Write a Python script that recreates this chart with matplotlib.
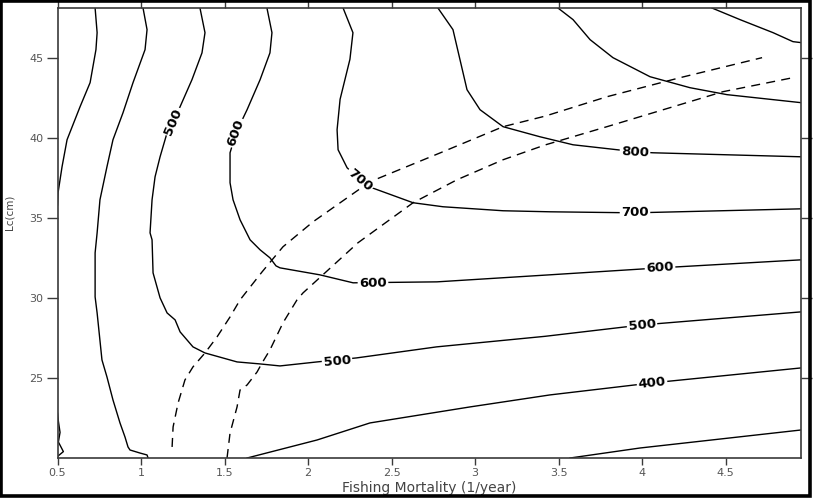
import matplotlib
matplotlib.use('Agg')
import matplotlib.pyplot as plt
from matplotlib.patches import Rectangle

# yield isopleths: F (1/year) and Lc (cm) along each line
f_300a = [0.725, 0.737, 0.73, 0.695, 0.635, 0.557, 0.527, 0.503, 0.5]
lc_300a = [48.1, 46.56, 45.5, 43.44, 41.94, 39.875, 38.19, 36.56, 35.8]
f_300b = [0.5, 0.505, 0.515, 0.505, 0.535, 0.5]
lc_300b = [22.8, 22.3, 21.6, 21.0, 20.4, 20.1]
f_300c = [3.569, 3.988, 4.952]
lc_300c = [20.0, 20.625, 21.75]

f_400a = [1.012, 1.036, 1.024, 0.952, 0.892, 0.832, 0.796, 0.754, 0.737, 0.725, 0.725,
          0.737, 0.766, 0.796, 0.832, 0.874, 0.904, 0.922, 0.934, 0.994, 1.036, 1.042]
lc_400a = [48.1, 46.75, 45.5, 43.44, 41.56, 39.875, 38.19, 36.125, 34.06, 32.81, 30.06,
           29.06, 26.125, 25.06, 23.625, 22.19, 21.31, 20.69, 20.5, 20.31, 20.19, 20.0]
f_400b = [1.635, 2.054, 2.371, 2.97, 3.449, 4.06, 4.952]
lc_400b = [20.0, 21.125, 22.19, 23.19, 23.94, 24.69, 25.625]

f_500 = [1.353, 1.383, 1.365, 1.305, 1.234, 1.192, 1.156, 1.114, 1.084, 1.066, 1.054,
         1.066, 1.072, 1.114, 1.156, 1.204, 1.234, 1.311, 1.383, 1.575, 1.713, 1.832,
         2.054, 2.29, 2.77, 3.42, 4.0, 4.952]
lc_500 = [48.1, 46.56, 45.3, 43.625, 41.94, 41.0, 40.31, 38.81, 37.56, 36.125, 34.06,
          33.625, 31.56, 30.0, 29.06, 28.625, 27.875, 26.94, 26.56, 26.0, 25.875, 25.75,
          26.0, 26.25, 26.94, 27.6, 28.31, 29.125]

f_600 = [1.754, 1.784, 1.772, 1.713, 1.635, 1.569, 1.533, 1.533, 1.551, 1.593, 1.653,
         1.713, 1.772, 1.808, 1.832, 2.07, 2.27, 2.772, 3.449, 4.108, 4.952]
lc_600 = [48.1, 46.56, 45.3, 43.625, 41.75, 40.31, 39.06, 37.19, 36.125, 34.875, 33.625,
          33.0, 32.5, 32.0, 31.875, 31.44, 30.94, 31.0, 31.44, 31.875, 32.375]

f_700 = [2.21, 2.269, 2.251, 2.192, 2.174, 2.18, 2.234, 2.311, 2.383, 2.629, 2.808,
         3.168, 3.449, 3.958, 4.952]
lc_700 = [48.1, 46.56, 44.9, 42.4, 40.5, 39.25, 38.125, 37.375, 36.875, 35.94, 35.69,
          35.44, 35.375, 35.31, 35.56]

f_800 = [2.778, 2.868, 2.91, 2.952, 3.03, 3.168, 3.389, 3.587, 3.958, 4.066, 4.952]
lc_800 = [48.1, 46.75, 44.875, 43.0, 41.75, 40.69, 40.06, 39.56, 39.125, 39.06, 38.81]

f_900 = [3.497, 3.587, 3.689, 3.826, 4.048, 4.287, 4.509, 4.952]
lc_900 = [48.1, 47.375, 46.125, 45.0, 43.81, 43.125, 42.69, 42.19]

f_1000 = [4.419, 4.587, 4.785, 4.904, 4.952]
lc_1000 = [48.1, 47.375, 46.56, 46.0, 45.94]

# the two dashed curves
f_dash1 = [1.186, 1.192, 1.222, 1.263, 1.311, 1.383, 1.455, 1.533, 1.593, 1.725, 1.85,
           2.03, 2.371, 2.808, 3.168, 3.42, 3.79, 4.228, 4.719]
lc_dash1 = [20.69, 21.94, 23.44, 24.875, 25.69, 26.56, 27.56, 28.81, 29.875, 31.625, 33.19,
            34.75, 37.25, 39.125, 40.69, 41.35, 42.56, 43.75, 45.0]
f_dash2 = [1.515, 1.533, 1.575, 1.593, 1.635, 1.695, 1.725, 1.772, 1.85, 1.934, 1.97,
           2.299, 2.629, 2.892, 3.168, 3.42, 3.79, 4.485, 4.904]
lc_dash2 = [20.0, 21.56, 23.19, 24.25, 24.56, 25.375, 25.94, 26.75, 28.44, 29.875, 30.31,
            33.44, 35.94, 37.375, 38.625, 39.55, 40.69, 42.875, 43.75]

# contour labels: text, F, Lc, angle
lab_text = ['500', '600', '700', '500', '600', '600', '500', '400', '700', '800']
lab_f = [1.192, 1.569, 2.311, 2.174, 2.389, 4.108, 4.0, 4.06, 3.958, 3.958]
lab_lc = [41.0, 40.31, 37.375, 26.06, 30.94, 31.875, 28.31, 24.69, 35.31, 39.125]
lab_rot = [67, 70, -40, 5, 1, 3.5, 5.5, 6, 0.5, -3]

xticks = [0.5, 1, 1.5, 2, 2.5, 3, 3.5, 4, 4.5]
xtick_labels = ['0.5', '1', '1.5', '2', '2.5', '3', '3.5', '4', '4.5']
yticks = [25, 30, 35, 40, 45]

fig = plt.figure(figsize=(8.15, 4.98), dpi=100)
ax = fig.add_axes([0.0706, 0.0803, 0.9122, 0.9036])

solid = [(f_300a, lc_300a), (f_300b, lc_300b), (f_300c, lc_300c), (f_400a, lc_400a),
         (f_400b, lc_400b), (f_500, lc_500), (f_600, lc_600), (f_700, lc_700),
         (f_800, lc_800), (f_900, lc_900), (f_1000, lc_1000)]
for fx, ly in solid:
    ax.plot(fx, ly, color='black', lw=1.0, solid_joinstyle='round')

for fx, ly in [(f_dash1, lc_dash1), (f_dash2, lc_dash2)]:
    ax.plot(fx, ly, color='black', lw=1.0, dashes=(6.5, 4.5))

for t, fx, ly, r in zip(lab_text, lab_f, lab_lc, lab_rot):
    ax.text(fx, ly, t, rotation=r, ha='center', va='center', rotation_mode='anchor',
            fontsize=9.5, fontweight='bold', family='DejaVu Sans', color='black',
            bbox=dict(facecolor='white', edgecolor='none', pad=1.0))

ax.set_xlim(0.5, 4.952)
ax.set_ylim(20, 48.1)
ax.set_xticks(xticks)
ax.set_xticklabels(xtick_labels)
ax.set_yticks(yticks)

for s in ax.spines.values():
    s.set_color('#3a3a3a')
    s.set_linewidth(1.2)
ax.tick_params(axis='both', direction='out', colors='#3a3a3a', labelcolor='#555555',
               labelsize=8, width=1.0)
ax.tick_params(axis='x', length=5, pad=2, top=True)
ax.tick_params(axis='y', length=8, pad=2, right=True)
ax.tick_params(axis='x', which='both', labeltop=False)
ax.tick_params(axis='y', which='both', labelright=False)

ax.set_xlabel('Fishing Mortality (1/year)', fontsize=10, color='#444444')
ax.xaxis.set_label_coords(0.5, -0.05)
ax.set_ylabel('Lc(cm)', fontsize=7.5, color='#444444')
ax.yaxis.set_label_coords(-0.058, 0.547)

# black frame around the whole picture
fig.patches.append(Rectangle((0.0015, 0.004), 0.9925, 0.993, transform=fig.transFigure,
                             fill=False, edgecolor='black', linewidth=2.6))

fig.savefig('out.png', dpi=100)
